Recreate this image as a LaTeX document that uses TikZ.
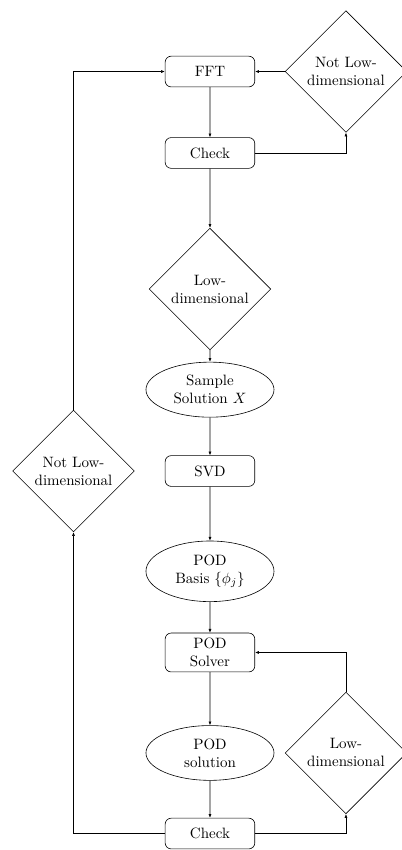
\documentclass[tikz,border=0pt]{standalone}
\usetikzlibrary{shapes.geometric,arrows.meta}
\begin{document}
\begin{tikzpicture}[scale=0.2]
    \tikzstyle{block}=[draw, rounded corners, align=center, minimum width=2.1cm, minimum height=0.72cm]
    \tikzstyle{result}=[draw, ellipse, align=center, minimum width=3cm]
    \tikzstyle{decision}=[draw, diamond, align=center, inner sep=0pt, minimum size=2.85cm]
    \tikzstyle{arrow}=[-{Latex[length=2.5pt,width=2pt]}]
    \useasboundingbox (0,0) rectangle (46.98,-99.58);
    \node [block] (fft) at (24.6,-8.38) {FFT};
    \node [block] (check) at (24.6,-17.92) {Check};
    \node [decision] (lowdim) at (24.6,-33.86) {Low-\\dimensional};
    \node [result] (sample) at (24.6,-45.65) {Sample\\Solution $X$};
    \node [block] (svd) at (24.6,-55.18) {SVD};
    \node [result] (basis) at (24.6,-66.93) {POD\\Basis $\{\phi_j\}$};
    \node [block] (solver) at (24.6,-76.44) {POD\\Solver};
    \node [result] (podsol) at (24.6,-88.21) {POD\\solution};
    \node [block] (checkb) at (24.6,-97.65) {Check};
    \node [decision] (nottop) at (40.53,-8.38) {Not Low-\\dimensional};
    \node [decision] (notleft) at (8.61,-55.18) {Not Low-\\dimensional};
    \node [decision] (lowright) at (40.53,-88.21) {Low-\\dimensional};
    \draw [arrow] (fft) -- (check);
    \draw [arrow] (check) -- (lowdim);
    \draw [arrow] (lowdim) -- (sample);
    \draw [arrow] (sample) -- (svd);
    \draw [arrow] (svd) -- (basis);
    \draw [arrow] (basis) -- (solver);
    \draw [arrow] (solver) -- (podsol);
    \draw [arrow] (podsol) -- (checkb);
    \draw [arrow] (check.east) -| (nottop.south);
    \draw [arrow] (nottop.west) -- (fft.east);
    \draw [arrow] (checkb.east) -| (lowright.south);
    \draw [arrow] (lowright.north) |- (solver.east);
    \draw [arrow] (checkb.west) -| (notleft.south);
    \draw [arrow] (notleft.north) |- (fft.west);
\end{tikzpicture}
\end{document}
